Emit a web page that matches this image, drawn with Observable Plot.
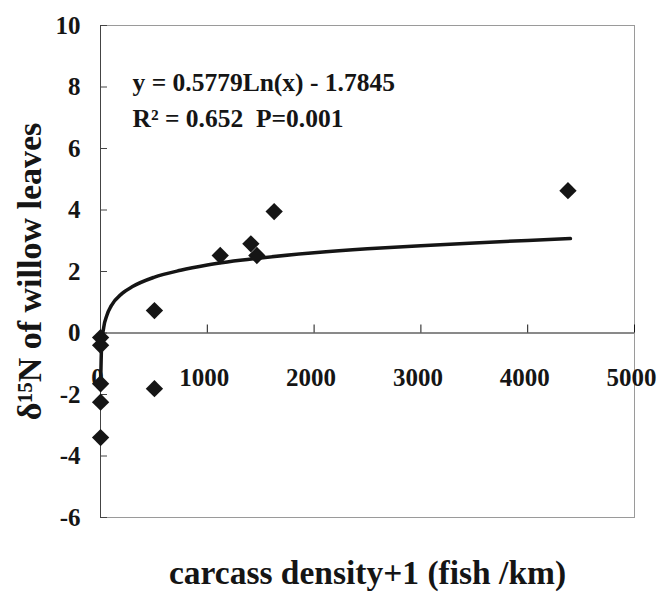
<!DOCTYPE html>
<html><head><meta charset="utf-8">
<script src="https://cdn.jsdelivr.net/npm/d3@7"></script>
<script src="https://cdn.jsdelivr.net/npm/@observablehq/plot@0.6"></script>
<style>body{margin:0;background:#fff}</style>
</head><body><div id="chart"></div>
<script>
// observed points (carcass density + 1, δ15N)
const carcassDensity = [1, 1, 1, 1, 1, 505, 505, 1121, 1408, 1464, 1626, 4377];
const delta15N = [-0.15, -0.4, -1.65, -2.25, -3.4, 0.73, -1.81, 2.52, 2.9, 2.52, 3.95, 4.63];
// trend curve
const trendX = [1, 10, 30, 60, 100, 200, 300, 500, 750, 1000, 1500, 2000, 2500, 3000, 3500, 4000, 4400];
const trendY = [-1.75, -0.45, 0.18, 0.58, 0.88, 1.28, 1.51, 1.81, 2.04, 2.21, 2.44, 2.61, 2.74, 2.84, 2.93, 3.01, 3.07];
const xTicks = [0, 1000, 2000, 3000, 4000, 5000];
const yTicks = [-6, -4, -2, 0, 2, 4, 6, 8, 10];
const equationText = "y = 0.5779Ln(x) - 1.7845";
const statsText = "R\u00b2 = 0.652\u00a0 P=0.001";
const xLabel = "carcass density+1 (fish /km)";
const yLabel = "\u03b4\u00b9\u2075N of willow leaves";

const points = carcassDensity.map((x, i) => ({x, y: delta15N[i]}));
const trend = trendX.map((x, i) => ({x, y: trendY[i]}));

const font = "'Liberation Serif', 'Times New Roman', serif";
const ink = "#151515";

const chart = Plot.plot({
  width: 659, height: 593,
  marginLeft: 100, marginRight: 25, marginTop: 25, marginBottom: 76,
  style: {fontFamily: font, fontWeight: "bold", background: "#fff", color: ink},
  x: {domain: [0, 5000], axis: null},
  y: {domain: [-6, 10], axis: null},
  marks: [
    Plot.frame({stroke: "#9a9a9a"}),
    Plot.ruleX([0], {stroke: "#444"}),
    Plot.ruleY([0], {stroke: ink}),
    // y ticks pointing inward
    Plot.ruleY(yTicks, {y: d => d, x1: 0, x2: 0, insetRight: -7, stroke: "#444"}),
    // x ticks pointing up from the zero line
    Plot.ruleX(xTicks.slice(1), {x: d => d, y1: 0, y2: 0, insetTop: -8, stroke: ink}),
    Plot.text(yTicks, {y: d => d, text: d => String(d), frameAnchor: "left", dx: -20, textAnchor: "end", fontSize: 25, fill: ink}),
    Plot.text(xTicks, {x: d => d, y: 0, text: d => String(d), dy: 45, dx: -3, fontSize: 25, fill: ink}),
    Plot.line(trend, {x: "x", y: "y", stroke: ink, strokeWidth: 3.5, curve: "monotone-x"}),
    Plot.dot(points, {x: "x", y: "y", symbol: "diamond2", r: 7.8, fill: ink, stroke: "none"}),
    Plot.text([equationText], {frameAnchor: "top-left", dx: 32, dy: 47, textAnchor: "start", fontSize: 25.5, fill: ink}),
    Plot.text([statsText], {frameAnchor: "top-left", dx: 32, dy: 83, textAnchor: "start", fontSize: 25.5, fill: ink}),
    Plot.text([xLabel], {frameAnchor: "bottom", dy: 66, textAnchor: "middle", fontSize: 33.5, fill: ink}),
    Plot.text([yLabel], {frameAnchor: "left", dx: -70, rotate: -90, textAnchor: "middle", fontSize: 34, fill: ink})
  ]
});
document.getElementById("chart").appendChild(chart);
</script>
</body></html>
